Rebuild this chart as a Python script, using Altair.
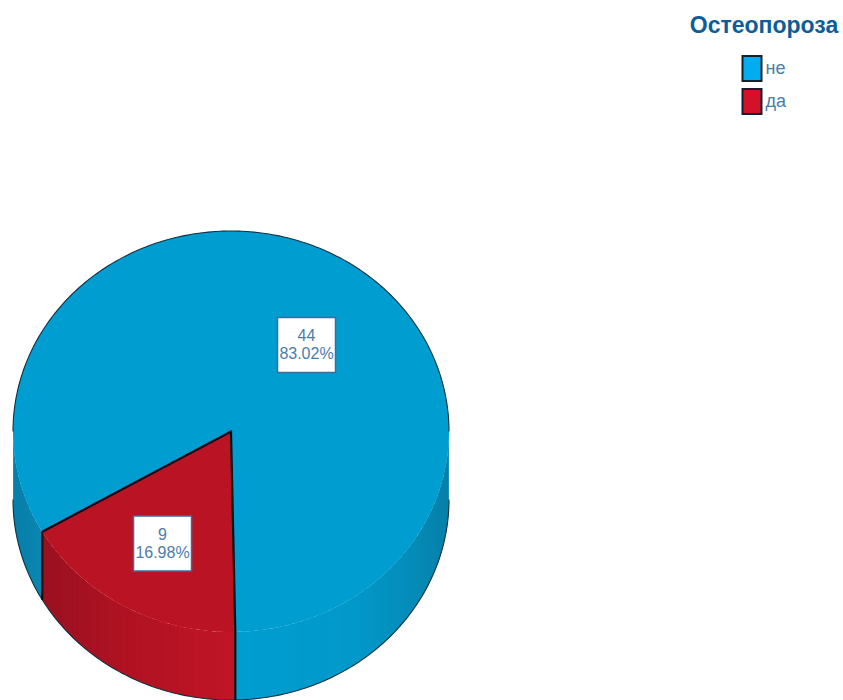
import math
import altair as alt
import pandas as pd

# Survey counts shown on the pie
categories = ["не", "да"]
counts = [44, 9]
legend_title = "Остеопороза"

# Pie geometry, in pixels of the 843x700 canvas and degrees clockwise from twelve o'clock
CX, CY, RX, RY, DEPTH = 231.0, 431.5, 218.0, 200.5, 68.0
START_ANGLE = 240.0
CANVAS_W, CANVAS_H = 843, 700
depth_u = DEPTH / RY

top_colors = ["#009dd1", "#ba1324"]
legend_colors = ["#00aeef", "#d51029"]
text_color = "#4d7ca6"
box_stroke = "#3f6c9c"
FONT = "Liberation Sans"

total = sum(counts)
sweeps = [c / total * 360 for c in counts]
blue_to = START_ANGLE + sweeps[0]
red_from, red_to = blue_to - 360, START_ANGLE


def px(t):
    return math.sin(math.radians(t))


def py(t):
    return -math.cos(math.radians(t))


def span(a, b, step=1.0):
    n = max(2, int(abs(b - a) / step) + 1)
    return [a + (b - a) * i / (n - 1) for i in range(n)]


def mix(stops, f):
    """Colour at position f along a list of (offset, (r, g, b)) stops."""
    for (o0, c0), (o1, c1) in zip(stops, stops[1:]):
        if f <= o1:
            k = (f - o0) / (o1 - o0) if o1 > o0 else 0
            return "#%02x%02x%02x" % tuple(round(a + (b - a) * k) for a, b in zip(c0, c1))
    return "#%02x%02x%02x" % stops[-1][1]


x_scale = alt.Scale(domain=[-CX / RX, (CANVAS_W - CX) / RX], nice=False, zero=False)
y_scale = alt.Scale(domain=[-CY / RY, (CANVAS_H - CY) / RY], nice=False, zero=False, reverse=True)
X = alt.X("x:Q", scale=x_scale, axis=None)
Y = alt.Y("y:Q", scale=y_scale, axis=None)

# Side wall of the cylinder, built from narrow shaded strips that darken towards the rim.
# Each strip runs slightly under its neighbour so no hairline gaps show between them.
BLUE_RIGHT = [(0, (0, 157, 209)), (0.55, (2, 152, 202)), (0.8, (4, 141, 185)), (1, (6, 127, 168))]
BLUE_LEFT = [(0, (6, 127, 168)), (1, (10, 134, 176))]
RED_FRONT = [(0, (153, 16, 32)), (0.45, (176, 18, 34)), (1, (192, 21, 38))]

wall_rows = []
strip_id = 0
for a, b, stops in [
    (blue_to - 360, 90, BLUE_RIGHT),
    (red_from, red_to, RED_FRONT),
    (red_to, 270, BLUE_LEFT),
]:
    edges = span(a, b, 2.0)
    left_x, right_x = min(px(a), px(b)), max(px(a), px(b))
    # Paint from the last strip back to the first, so earlier strips sit on top
    pieces = list(zip(edges, edges[1:]))
    for n, (t0, t1) in reversed(list(enumerate(pieces))):
        step = 1.0 if b > a else -1.0
        t_end = t1 + step if n < len(pieces) - 1 else t1
        f = (0.5 * (px(t0) + px(t1)) - left_x) / (right_x - left_x)
        shade = mix(stops, f)
        corners = [
            (px(t0), py(t0)),
            (px(t_end), py(t_end)),
            (px(t_end), py(t_end) + depth_u),
            (px(t0), py(t0) + depth_u),
        ]
        for i, (x, y) in enumerate(corners):
            wall_rows.append({"x": x, "y": y, "i": i, "strip": strip_id, "shade": shade})
        strip_id += 1

wall = (
    alt.Chart(pd.DataFrame(wall_rows))
    .mark_line(strokeWidth=0, clip=True)
    .encode(
        x=X,
        y=Y,
        order="i:Q",
        detail="strip:N",
        fill=alt.Fill("shade:N", scale=None),
    )
)

# Top face: one closed sector per category
face_rows = []
for name, a, b in zip(categories, [START_ANGLE, red_from], [blue_to, red_to]):
    pts = [(0.0, 0.0)] + [(px(t), py(t)) for t in span(a, b)]
    face_rows += [{"x": x, "y": y, "i": i, "cat": name} for i, (x, y) in enumerate(pts)]

faces = (
    alt.Chart(pd.DataFrame(face_rows))
    .mark_line(strokeWidth=0, clip=True)
    .encode(
        x=X,
        y=Y,
        order="i:Q",
        fill=alt.Fill("cat:N", scale=alt.Scale(domain=categories, range=top_colors),
                      sort=categories, legend=None),
    )
)

# Thin rim around the back of the top face and the bottom of the wall
thin_paths = {
    "rim": [(px(t), py(t)) for t in span(270, 450)],
    "base": [(px(t), py(t) + depth_u) for t in span(90, 270)],
}
thin_rows = [
    {"x": x, "y": y, "i": i, "path": k}
    for k, pts in thin_paths.items()
    for i, (x, y) in enumerate(pts)
]
thin = (
    alt.Chart(pd.DataFrame(thin_rows))
    .mark_line(color="#10303f", strokeWidth=1.1, clip=True)
    .encode(x=X, y=Y, order="i:Q", detail="path:N")
)

# Heavy seams between the two slices
seam_paths = {
    "top": [(px(red_from), py(red_from)), (0, 0), (px(red_to), py(red_to))],
    "front": [(px(red_from), py(red_from)), (px(red_from), py(red_from) + depth_u)],
    "left": [(px(red_to), py(red_to)), (px(red_to), py(red_to) + depth_u)],
}
seam_rows = [
    {"x": x, "y": y, "i": i, "path": k}
    for k, pts in seam_paths.items()
    for i, (x, y) in enumerate(pts)
]
seams = (
    alt.Chart(pd.DataFrame(seam_rows))
    .mark_line(color="#0a0a14", strokeWidth=2.2, clip=True)
    .encode(x=X, y=Y, order="i:Q", detail="path:N")
)

# Value callouts, placed in pie units
label_df = pd.DataFrame(
    {
        "x": [(306.5 - CX) / RX, (162.5 - CX) / RX],
        "y": [(345 - CY) / RY, (543.5 - CY) / RY],
        "text": [f"{c}\n{c / total * 100:.2f}%" for c in counts],
    }
)
boxes = (
    alt.Chart(label_df)
    .mark_rect(width=58, height=55, fill="white", stroke=box_stroke, strokeWidth=1.5)
    .encode(x=X, y=Y)
)
texts = (
    alt.Chart(label_df)
    .mark_text(
        font=FONT, fontSize=16, lineBreak="\n", lineHeight=18, dy=-9,
        color=text_color, align="center", baseline="middle",
    )
    .encode(x=X, y=Y, text="text:N")
)

# Legend entries use the brighter swatch colours
legend_layer = (
    alt.Chart(pd.DataFrame({"cat": categories}))
    .mark_point(opacity=0, filled=True)
    .encode(
        color=alt.Color(
            "cat:N",
            scale=alt.Scale(domain=categories, range=legend_colors),
            sort=categories,
            legend=alt.Legend(
                title=None,
                orient="none",
                legendX=738.5,
                legendY=55,
                symbolType="M-0.76,-1H0.76V1H-0.76Z",
                symbolSize=625,
                symbolOpacity=1,
                symbolStrokeColor="#10202c",
                symbolStrokeWidth=2,
                labelFont=FONT,
                labelFontSize=18,
                labelColor=text_color,
                labelOffset=0,
                rowPadding=0,
                padding=0,
            ),
        )
    )
)

title_text = (
    alt.Chart(pd.DataFrame({"t": [legend_title]}))
    .mark_text(
        font=FONT, fontSize=23, fontWeight="bold",
        color="#0d5d96", align="center", baseline="middle",
    )
    .encode(x=alt.value(764), y=alt.value(26), text="t:N")
)

chart = (
    alt.layer(wall, faces, thin, seams, boxes, texts, legend_layer, title_text)
    .resolve_scale(color="independent", fill="independent")
    .properties(
        width=CANVAS_W,
        height=CANVAS_H,
        padding=0,
        autosize=alt.AutoSizeParams(type="none"),
        background="white",
    )
    .configure_view(stroke=None)
)

chart.save("out.html", embed_options={"renderer": "svg", "actions": False})
